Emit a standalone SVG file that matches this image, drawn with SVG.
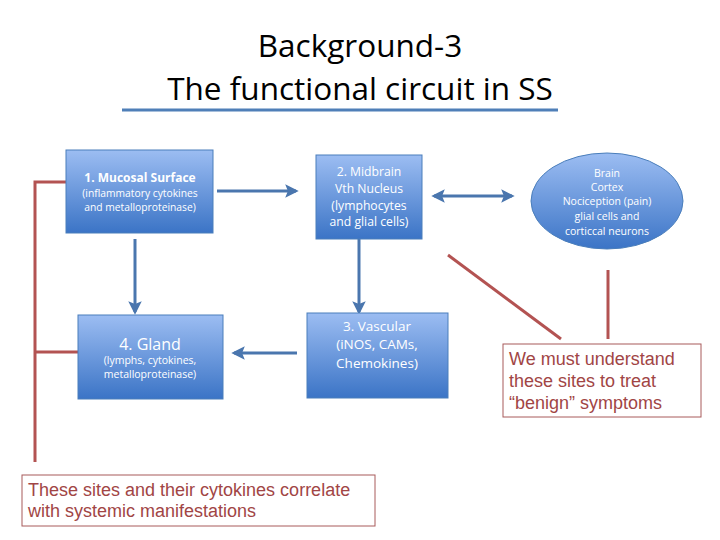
<svg xmlns="http://www.w3.org/2000/svg" width="720" height="540" viewBox="0 0 720 540">
<defs>
<linearGradient id="g" x1="0" y1="0" x2="0" y2="1">
<stop offset="0" stop-color="#9cbdf2"/>
<stop offset="1" stop-color="#3b74c6"/>
</linearGradient>
<marker id="ah" viewBox="0 0 10 10" refX="8" refY="5" markerWidth="4.5" markerHeight="4.5" orient="auto-start-reverse" markerUnits="strokeWidth">
<path d="M0,0 L10,5 L0,10 L2,5 z" fill="#4a76ae"/>
</marker>
<style>
.box{fill:url(#g);stroke:#4a7ebb;stroke-width:1}
.wt{font-family:"Open Sans","Liberation Sans",sans-serif;fill:#ffffff;text-anchor:middle}
.blue{stroke:#4a76ae;stroke-width:3;fill:none}
.red{stroke:#b35352;stroke-width:3;fill:none}
.rt{font-family:"Liberation Sans",Arial,sans-serif;font-size:18px;fill:#a14545}
.rbox{fill:#ffffff;stroke:#a85a5a;stroke-width:1}
</style>
</defs>
<rect width="720" height="540" fill="#ffffff"/>
<g id="title">
<text x="360" y="57" text-anchor="middle" font-family="'Open Sans','Liberation Sans',sans-serif" font-size="31.5" fill="#000">Background-3</text>
<text x="360" y="100" text-anchor="middle" font-family="'Open Sans','Liberation Sans',sans-serif" font-size="31.5" fill="#000">The functional circuit in SS</text>
<line x1="122" y1="110" x2="558" y2="110" stroke="#4f7fb8" stroke-width="3"/>
</g>
<g id="connectors">
<line class="blue" x1="217" y1="191" x2="296" y2="191" marker-end="url(#ah)"/>
<line class="blue" x1="434" y1="196" x2="512" y2="196" marker-start="url(#ah)" marker-end="url(#ah)"/>
<line class="blue" x1="135" y1="239" x2="135" y2="312" marker-end="url(#ah)"/>
<line class="blue" x1="359" y1="239" x2="359" y2="312" marker-end="url(#ah)"/>
<line class="blue" x1="297" y1="353" x2="234" y2="353" marker-end="url(#ah)"/>
<polyline class="red" points="66,182 35,182 35,462"/>
<line class="red" x1="35" y1="352" x2="78" y2="352"/>
<line class="red" x1="448" y1="255" x2="561" y2="339"/>
<line class="red" x1="608" y1="270" x2="608" y2="339"/>
</g>
<g id="node1">
<rect class="box" x="66" y="150" width="147" height="83"/>
<text class="wt" x="140" y="182" font-size="12" font-weight="bold">1. Mucosal Surface</text>
<text class="wt" x="140" y="197" font-size="10.3">(inflammatory cytokines</text>
<text class="wt" x="140" y="211" font-size="10.3">and metalloproteinase)</text>
</g>
<g id="node2">
<rect class="box" x="316" y="155" width="106" height="84"/>
<text class="wt" x="369" y="176" font-size="12.2">2. Midbrain</text>
<text class="wt" x="369" y="193" font-size="12.2">Vth Nucleus</text>
<text class="wt" x="369" y="210" font-size="12.2">(lymphocytes</text>
<text class="wt" x="369" y="226" font-size="12.2">and glial cells)</text>
</g>
<g id="node-brain">
<ellipse cx="607" cy="201" rx="76" ry="48" fill="url(#g)" stroke="#4a7ebb" stroke-width="1"/>
<text class="wt" x="607" y="177" font-size="10.5">Brain</text>
<text class="wt" x="607" y="191" font-size="10.5">Cortex</text>
<text class="wt" x="607" y="205" font-size="10.5">Nociception (pain)</text>
<text class="wt" x="607" y="220" font-size="10.5">glial cells and</text>
<text class="wt" x="607" y="235" font-size="10.5">corticcal neurons</text>
</g>
<g id="node4">
<rect class="box" x="78" y="315" width="145" height="84"/>
<text class="wt" x="150" y="350" font-size="16">4. Gland</text>
<text class="wt" x="150" y="364" font-size="10.5">(lymphs, cytokines,</text>
<text class="wt" x="150" y="378" font-size="10.5">metalloproteinase)</text>
</g>
<g id="node3">
<rect class="box" x="307" y="313" width="141" height="85"/>
<text class="wt" x="377" y="331" font-size="13.5">3. Vascular</text>
<text class="wt" x="377" y="349" font-size="13.5">(iNOS, CAMs,</text>
<text class="wt" x="377" y="368" font-size="13.5">Chemokines)</text>
</g>
<g id="note-right">
<rect class="rbox" x="503" y="344" width="198" height="73"/>
<text class="rt" x="509" y="365">We must understand</text>
<text class="rt" x="509" y="387">these sites to treat</text>
<text class="rt" x="509" y="409">“benign” symptoms</text>
</g>
<g id="note-bottom">
<rect class="rbox" x="22" y="475" width="353" height="51"/>
<text class="rt" x="28" y="496">These sites and their cytokines correlate</text>
<text class="rt" x="28" y="517">with systemic manifestations</text>
</g>
</svg>
